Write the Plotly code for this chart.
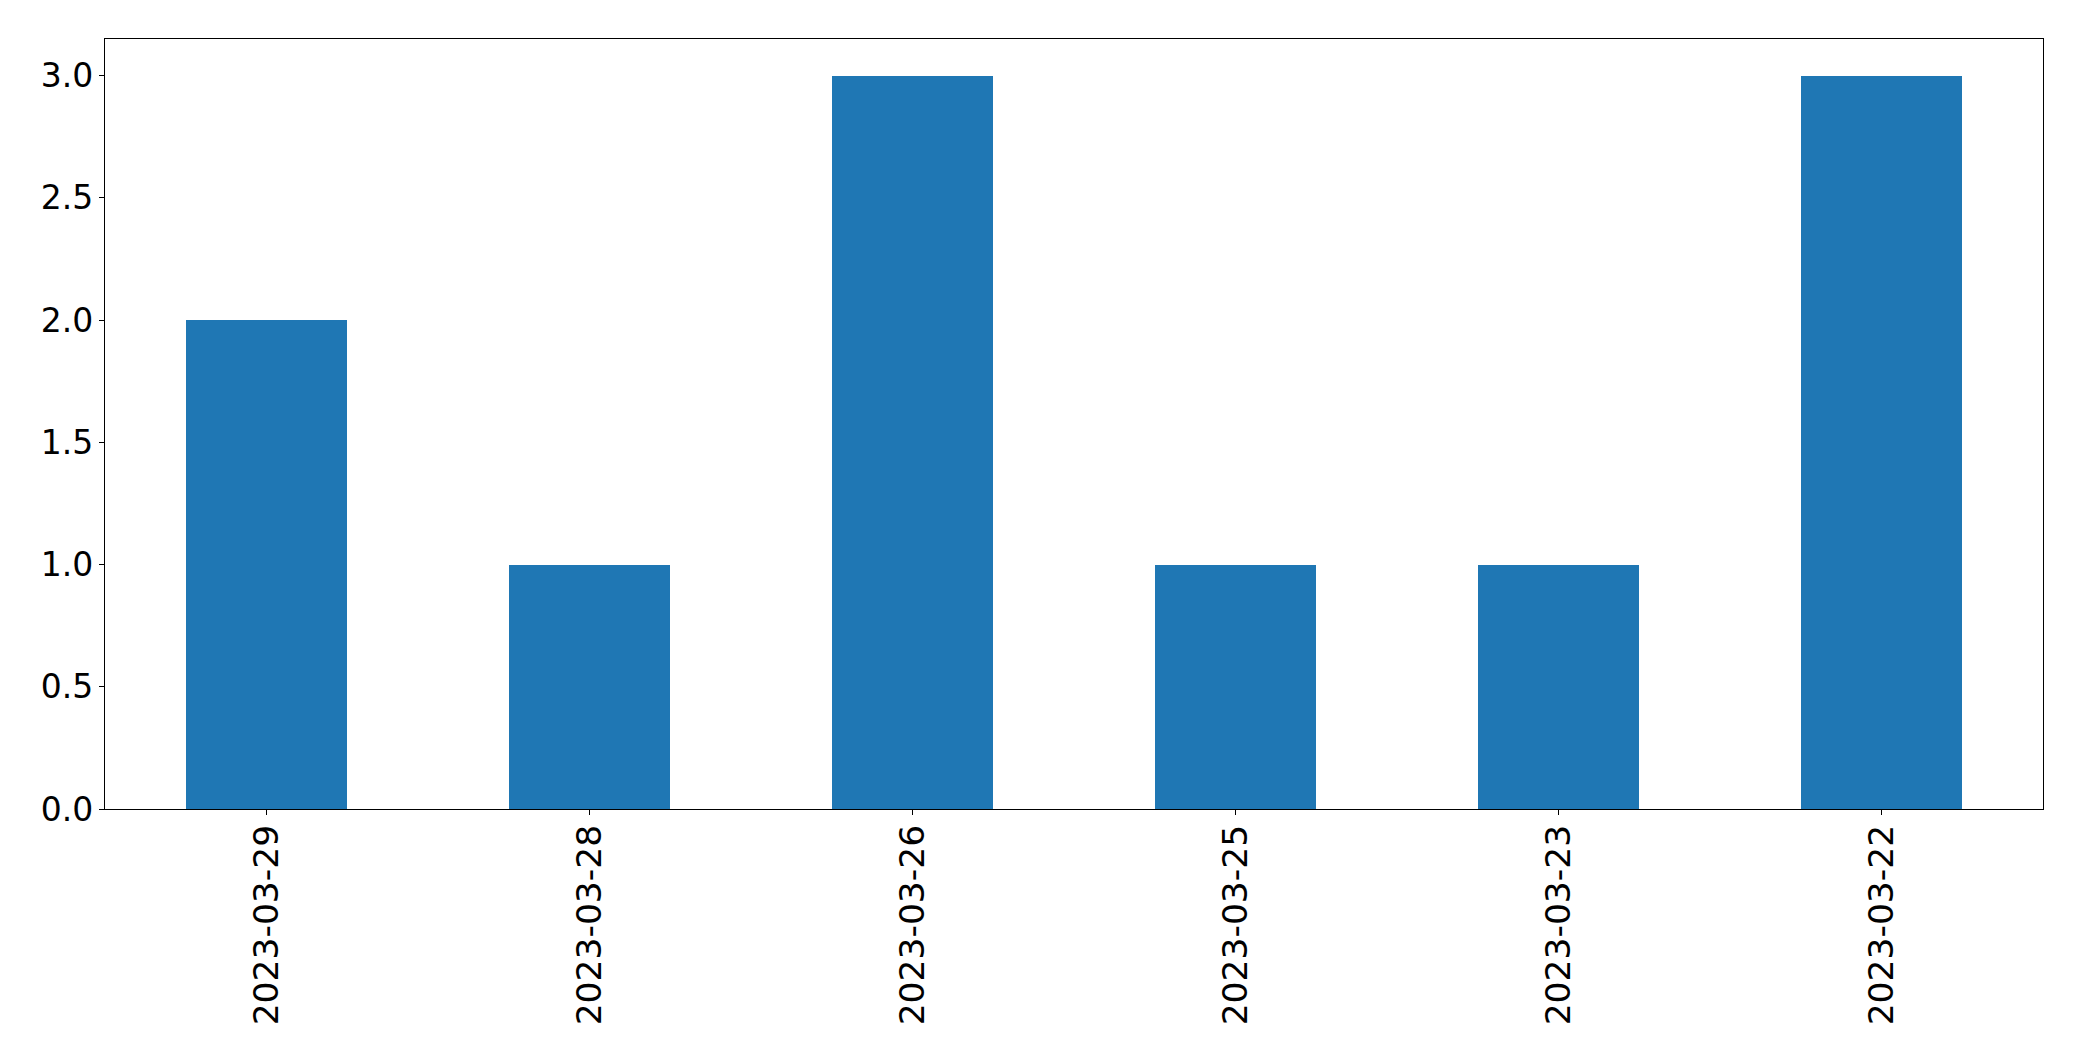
import plotly.graph_objects as go

dates = ["2023-03-29", "2023-03-28", "2023-03-26", "2023-03-25", "2023-03-23", "2023-03-22"]
counts = [2, 1, 3, 1, 1, 3]

fig = go.Figure(
    go.Bar(
        x=list(range(len(dates))),
        y=counts,
        width=0.5,
        marker=dict(color="#1f77b4", line=dict(width=0)),
    )
)

axis_common = dict(
    showline=True,
    linecolor="black",
    linewidth=1.1,
    mirror=True,
    ticks="outside",
    ticklen=5,
    tickwidth=1.1,
    tickcolor="black",
    showgrid=False,
    zeroline=False,
)

fig.update_xaxes(
    range=[-0.5, 5.5],
    tickmode="array",
    tickvals=list(range(len(dates))),
    ticktext=dates,
    tickangle=-90,
    ticklabelstandoff=-4,
    tickfont=dict(family="DejaVu Sans", size=34.5, color="black"),
    **axis_common,
)
fig.update_yaxes(
    range=[0, 3.15],
    tickmode="array",
    tickvals=[0, 0.5, 1.0, 1.5, 2.0, 2.5, 3.0],
    ticktext=["0.0", "0.5", "1.0", "1.5", "2.0", "2.5", "3.0"],
    ticklabelstandoff=-1,
    tickfont=dict(family="DejaVu Sans", size=33, color="black"),
    **axis_common,
)

fig.update_layout(
    width=2066,
    height=1045,
    margin=dict(l=97, r=31, t=31, b=244, autoexpand=False),
    plot_bgcolor="white",
    paper_bgcolor="white",
    showlegend=False,
    bargap=0,
)

fig.write_html("out.html", config={"displayModeBar": False})
